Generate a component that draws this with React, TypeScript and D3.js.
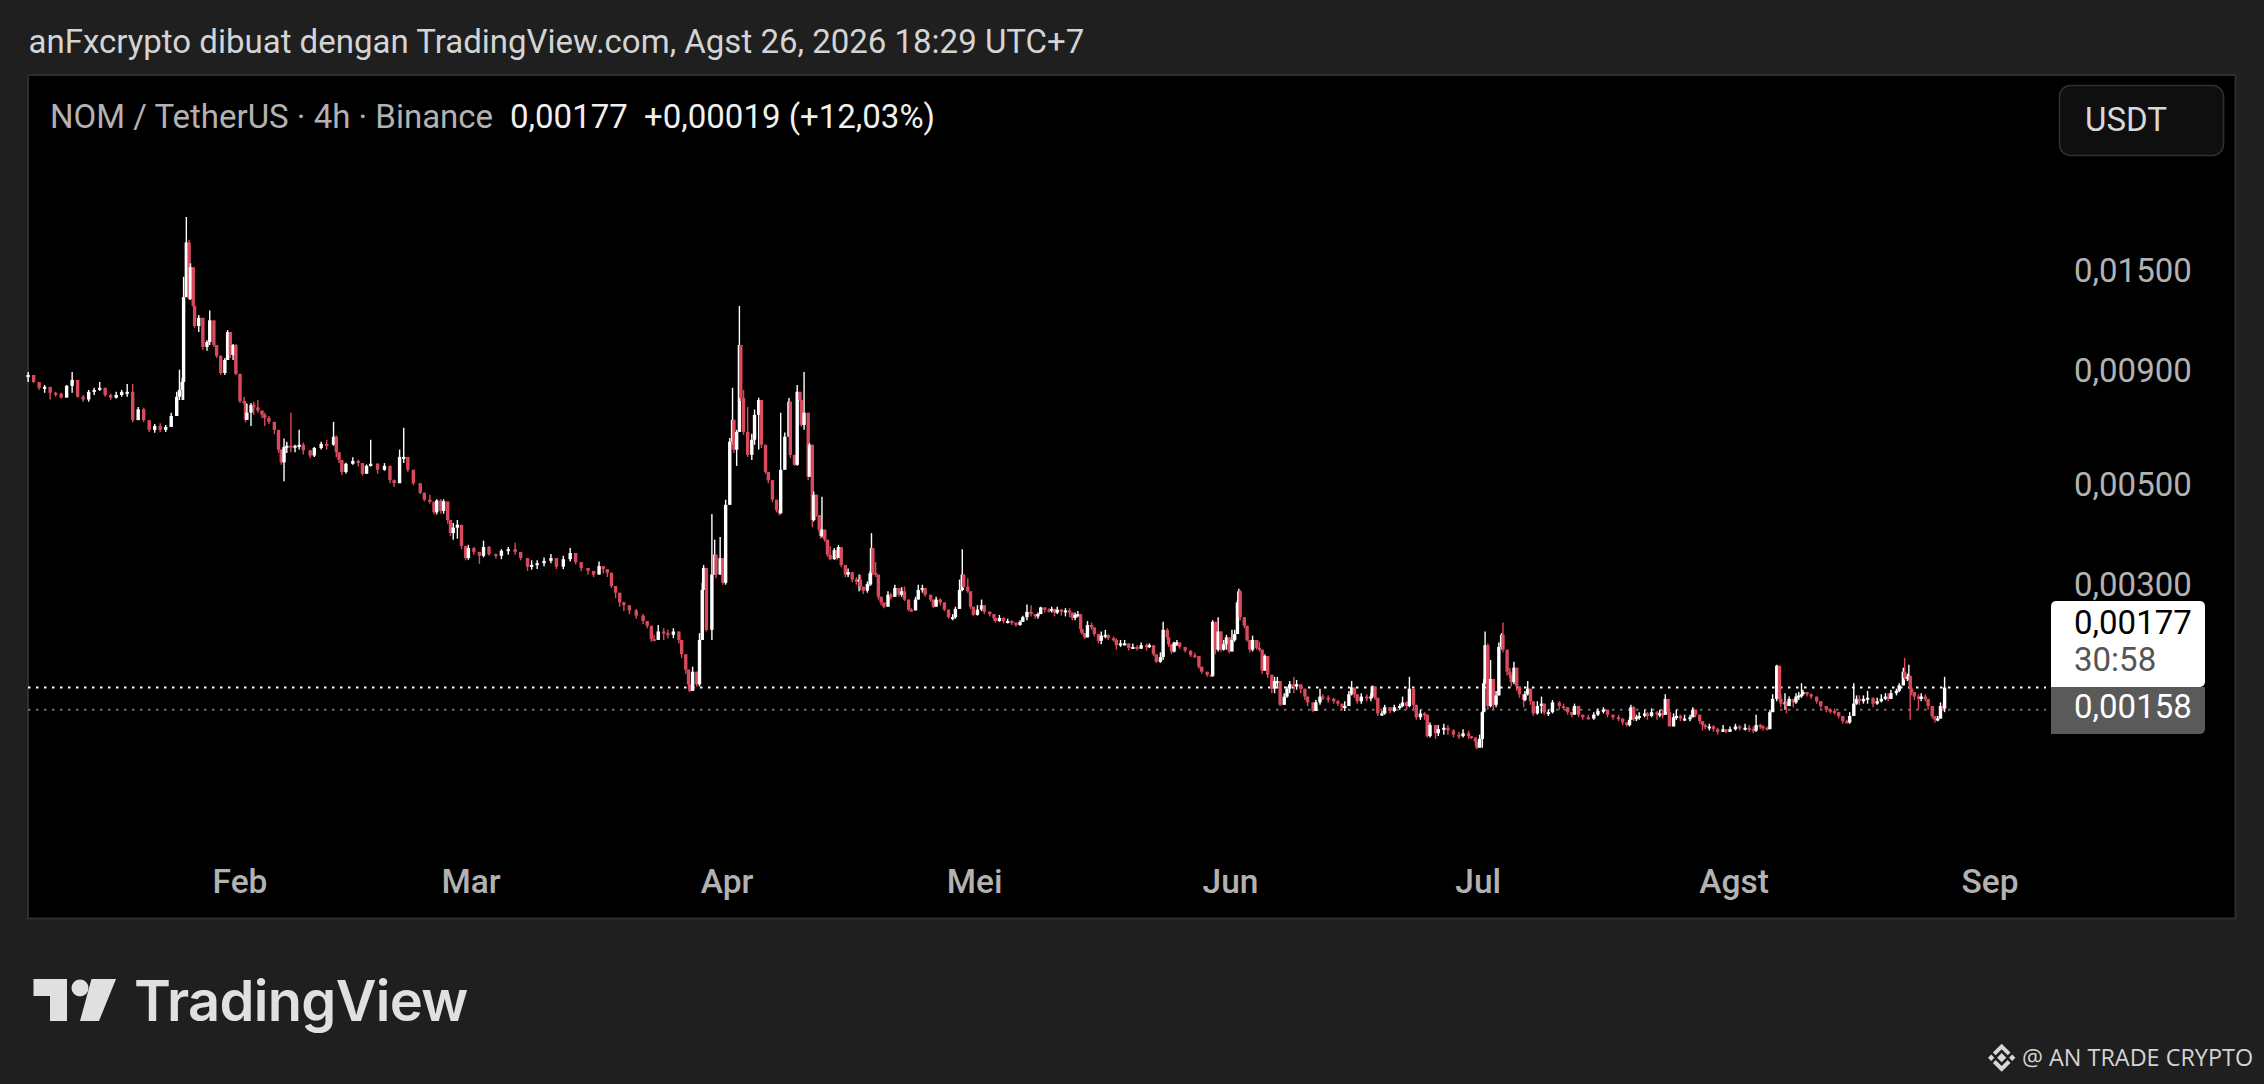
import React from "react";
import * as d3 from "d3";

// Every bar: [4h bar number, close, high, low], prices in 0.00001 USDT
type Bar = [number, number, number, number];

const firstOpen = 870;
const janBars: Bar[] = [
[0,880,893,849],[4,849,870,844],[8,824,849,815],[12,828,836,803],[16,803,815,776],[20,799,807,787],[24,783,803,780],[28,832,836,803],[32,858,893,803],[36,787,824,783],[40,776,794,767],[44,807,815,767],[48,815,824,794],[52,824,849,811],[56,794,824,787],[60,783,799,774],[64,794,807,780],[68,807,815,787],[72,807,840,787],[76,698,840,691],[80,738,747,725],[84,698,744,691],[88,664,691,657],[92,677,684,654],[96,664,687,657],[100,674,681,657],[104,713,725,687],[108,787,807,751],[110,815,904,774],[112,849,866,774],[113,1312,1456,774],[115,1737,1979,1312],[117,1300,1760,1293],[118,1530,1560,1293],[120,1255,1530,1245],[121,1131,1247,1120],[124,1180,1197,1097],[127,1016,1137,1000],[130,1042,1052,996],[132,1165,1225,1026],[135,1026,1080,1016],[137,970,1026,960],[140,889,975,880],[143,950,960,880],[145,1097,1108,950],[147,975,1097,960],[149,1026,1031,950],[151,885,1031,880],
];
const febBars: Bar[] = [
[154,770,885,762],[157,762,787,755],[158,699,770,690],[159,725,759,699],[162,755,762,677],[164,745,767,717],[167,733,774,725],[170,717,733,705],[172,706,725,677],[175,692,713,684],[179,664,681,650],[182,600,660,590],[184,562,600,555],[186,608,635,510],[188,612,625,590],[191,608,725,592],[194,612,615,592],[197,615,664,600],[200,598,622,585],[205,582,598,574],[208,605,608,578],[213,618,625,600],[217,615,631,600],[222,641,692,612],[224,592,645,577],[226,569,592,560],[228,535,569,527],[231,558,561,530],[236,566,577,555],[240,560,570,550],[243,530,560,525],[246,552,556,530],[249,558,631,550],[254,541,560,530],[259,552,560,538],[263,513,552,505],[266,505,515,495],[270,578,600,505],[273,578,671,560],[276,541,578,535],[280,505,541,500],[285,481,505,478],[288,464,481,460],[292,459,476,455],[295,435,459,430],[297,462,465,430],[300,438,465,432],[302,460,465,432],[305,418,455,410],[307,391,418,385],[309,402,412,378],[312,408,418,380],[315,366,408,360],[318,344,366,340],[320,362,368,341],
];
const marBars: Bar[] = [
[324,355,364,350],[328,348,355,334],[331,364,376,345],[335,351,366,348],[340,348,352,343],[344,357,360,342],[349,360,364,350],[354,355,372,350],[358,344,355,340],[363,329,344,322],[366,332,340,324],[370,335,340,325],[375,339,345,330],[380,344,351,335],[384,329,344,325],[389,342,348,325],[394,353,362,338],[398,337,353,333],[402,327,337,322],[407,322,327,316],[411,316,322,312],[415,330,338,316],[418,325,330,318],[421,319,325,312],[424,298,319,295],[427,288,298,280],[430,274,288,268],[433,270,275,262],[437,263,270,258],[442,256,265,252],[447,249,258,245],[450,243,249,240],[453,227,243,224],[455,226,232,225],[458,236,244,228],[462,234,240,226],[465,232,238,228],[469,236,240,228],[473,226,236,222],[475,210,226,206],[478,194,210,190],[480,180,194,176],[481,174,180,173],[483,192,197,178],[486,180,192,178],[488,226,234,178],[490,292,303,226],[491,327,332,292],[493,238,327,236],[497,316,431,226],[499,350,378,316],[500,316,350,310],[503,344,383,316],[505,303,344,300],[507,452,464,300],
];
const aprBars: Bar[] = [
[510,625,637,452],[512,699,824,615],[513,600,699,590],[515,657,664,552],[517,1026,1254,657],[518,782,1026,770],[520,657,815,647],[523,584,747,578],[526,631,651,569],[528,717,737,615],[531,774,783,600],[533,615,774,605],[536,535,615,530],[538,513,535,505],[541,464,513,458],[544,440,464,435],[546,433,440,428],[547,541,725,431],[550,641,655,541],[553,767,782,641],[554,584,767,575],[557,555,584,552],[559,807,836,552],[561,774,807,770],[562,681,774,675],[564,725,893,664],[567,522,725,513],[568,615,620,522],[570,418,615,403],[571,476,484,415],[573,429,476,425],[575,398,429,392],[576,385,398,380],[577,398,471,382],[579,378,398,374],[581,350,378,346],[583,342,366,340],[586,358,362,341],[588,344,358,340],[589,364,368,344],[591,332,364,328],[594,316,332,312],[596,320,326,312],[599,308,320,304],[602,306,312,300],[604,308,316,290],[605,297,316,292],[607,291,297,286],[610,301,305,288],[612,318,322,298],[613,362,391,300],[614,319,362,315],[616,316,337,312],[618,282,316,278],[620,274,282,270],[622,268,274,266],[625,285,290,268],[627,282,288,278],[630,295,300,282],[633,285,295,282],[635,290,296,282],[637,278,297,276],[640,264,278,262],[642,263,266,261],[645,278,282,263],[647,292,300,278],[650,295,300,288],[652,285,295,282],[656,278,285,275],[658,268,278,266],[660,278,282,268],[663,274,280,270],[666,264,274,262],[669,254,264,252],[672,254,258,250],[674,265,268,252],[677,292,308,265],[679,316,360,290],[680,297,316,295],[683,290,310,288],[685,268,290,265],
];
const meiBars: Bar[] = [
[687,257,268,256],[690,264,270,256],[693,270,278,262],[695,261,270,258],[699,258,262,255],[702,253,258,250],[703,249,253,247],[706,253,257,248],[709,249,254,246],[712,249,252,246],[715,247,250,244],[718,244,247,242],[721,248,250,243],[723,254,256,248],[726,261,271,250],[729,258,270,255],[732,255,258,252],[734,258,260,252],[736,267,268,258],[739,264,267,260],[742,263,266,260],[744,265,268,260],[746,260,265,255],[748,264,268,258],[751,261,265,256],[754,263,266,255],[757,260,266,254],[759,253,260,250],[761,257,260,250],[763,258,262,254],[765,239,258,236],[766,234,239,232],[768,229,234,227],[770,244,249,229],[773,241,247,238],[775,233,241,230],[778,225,233,222],[780,231,236,221],[783,232,238,228],[785,228,232,226],[789,226,230,224],[791,220,228,215],[794,222,226,218],[797,222,226,220],[800,217,222,214],[803,218,222,216],[806,216,220,214],[809,220,223,216],[813,218,222,214],[815,220,222,217],[818,210,220,208],[820,202,210,201],[823,207,212,201],[825,238,248,204],[828,229,240,226],[829,221,229,218],[831,213,221,210],[833,223,224,212],[835,223,226,219],[837,218,223,216],[841,214,218,212],[845,209,214,207],[848,208,212,206],[851,197,208,195],[853,192,197,190],[857,189,192,187],[860,188,190,187],[861,248,250,187],[863,215,248,210],[865,236,254,213],[867,215,236,213],[869,221,226,214],[871,229,232,215],
];
const junBars: Bar[] = [
[873,213,229,211],[875,226,238,213],[877,233,238,224],[879,274,277,233],[880,290,294,274],[881,254,292,250],[884,243,254,240],[886,226,243,224],[888,215,226,212],[890,226,231,213],[893,217,226,215],[895,215,224,213],[897,193,215,190],[899,208,210,193],[901,189,208,186],[904,176,189,172],[906,183,187,172],[908,183,187,178],[910,162,183,161],[913,169,172,162],[915,176,178,168],[917,180,183,172],[920,178,187,172],[922,180,184,175],[925,176,180,172],[928,169,176,166],[930,164,169,161],[934,157,164,156],[936,164,166,157],[939,169,176,162],[941,168,171,166],[945,167,170,164],[949,165,168,163],[952,163,166,161],[955,160,163,158],[957,161,165,157],[960,171,174,161],[962,177,183,170],[964,171,177,168],[966,165,171,163],[969,169,172,163],[973,168,171,165],[976,169,172,165],[977,178,179,168],[979,168,178,166],[981,155,168,153],[984,155,157,153],[986,160,162,154],[990,157,160,155],[993,160,162,156],[997,161,163,158],[999,164,169,160],[1002,161,165,158],[1004,176,187,160],[1007,162,176,158],[1009,152,162,150],[1012,155,158,150],[1015,154,156,150],[1017,138,154,137],[1019,146,148,137],[1023,140,146,136],[1025,143,146,138],[1029,144,147,139],[1032,142,146,139],[1036,139,143,137],[1040,138,141,136],[1043,140,143,137],[1047,138,142,136],[1049,137,138,136],[1052,134,137,132],
];
const julBars: Bar[] = [
[1053,130,134,129],[1055,136,139,130],[1057,156,157,130],[1058,181,185,156],[1059,220,236,180],[1061,161,222,158],[1063,185,204,160],[1065,162,185,158],[1067,170,174,160],[1069,218,223,170],[1071,232,234,215],[1072,215,247,212],[1075,192,215,188],[1077,189,196,186],[1078,182,189,178],[1080,196,202,180],[1082,178,196,174],[1084,171,178,168],[1087,166,171,160],[1088,171,174,165],[1090,176,183,170],[1092,165,176,162],[1094,155,165,153],[1097,161,165,154],[1100,163,169,155],[1102,156,163,154],[1105,156,158,153],[1108,164,166,155],[1113,161,165,158],[1116,160,163,158],[1119,156,160,154],[1122,154,156,152],[1124,161,163,154],[1127,154,161,152],[1130,152,154,150],[1134,151,154,150],[1138,154,156,150],[1141,157,159,153],[1145,158,160,155],[1148,154,158,152],[1152,152,154,150],[1156,151,154,149],[1159,148,151,146],[1162,146,148,145],[1164,150,152,145],[1165,160,162,150],[1167,151,161,149],[1169,152,154,149],[1171,153,156,150],[1175,155,158,152],[1177,153,156,150],[1180,156,159,152],[1184,154,157,150],[1186,155,158,152],[1188,154,158,151],[1190,167,171,154],[1192,156,167,154],[1193,145,156,145],[1196,152,155,145],[1198,153,158,150],[1201,151,154,149],[1204,151,154,149],[1208,152,154,149],[1210,158,160,152],[1212,154,158,152],[1215,149,154,147],[1217,146,149,142],[1219,145,147,143],[1222,145,147,142],[1225,143,146,141],[1228,141,144,139],[1232,143,146,141],[1234,141,143,140],[1237,143,145,141],
];
const agstBars: Bar[] = [
[1241,145,147,142],[1244,144,146,142],[1248,144,147,142],[1251,143,146,141],[1254,142,145,140],[1256,146,154,141],[1259,145,147,143],[1261,144,146,142],[1264,143,145,142],[1266,156,158,143],[1268,167,171,156],[1271,198,199,165],[1273,167,198,165],[1274,163,171,160],[1277,164,172,158],[1278,161,165,155],[1280,167,169,161],[1283,164,167,160],[1285,169,172,163],[1287,170,173,166],[1289,171,181,168],[1290,173,175,170],[1293,171,173,169],[1296,169,172,167],[1300,165,169,163],[1303,161,165,159],[1307,158,161,156],[1310,157,159,155],[1313,156,159,154],[1316,153,156,151],[1319,149,153,147],[1322,148,150,147],[1324,153,156,147],[1327,163,181,153],[1329,167,170,162],[1331,165,170,162],[1334,167,170,163],[1337,168,174,163],[1341,163,168,160],[1344,165,168,162],[1347,167,171,164],[1350,169,172,166],[1352,167,172,165],[1354,172,175,167],[1358,174,176,170],[1360,179,181,173],[1363,192,196,179],[1364,186,206,184],[1366,187,190,183],[1367,188,199,184],[1368,176,188,150],[1369,173,178,170],[1371,169,173,166],[1374,167,171,158],[1376,169,172,165],[1379,167,171,165],[1381,161,167,158],[1384,153,161,151],[1386,150,153,148],[1388,151,153,149],[1390,161,164,151],[1392,159,163,157],[1393,177,187,156],
];

const UNIT = 1e-5;
const barHours = 4;
const priceTicks = [0.015, 0.009, 0.005, 0.003];
const lastPrice = 0.00177;
const prevClose = 0.00158;
const monthLabels = ["Feb", "Mar", "Apr", "Mei", "Jun", "Jul", "Agst", "Sep"];
const monthNumbers = [1, 2, 3, 4, 5, 6, 7, 8];
const titleText = "anFxcrypto dibuat dengan TradingView.com, Agst 26, 2026 18:29 UTC+7";
const legendName = "NOM / TetherUS · 4h · Binance";
const legendPrice = "0,00177";
const legendChange = "+0,00019 (+12,03%)";

const W = 2264, H = 1084;
const BG = "#1f1f1f";
const FONT = "Roboto, sans-serif";
const GREY = "#b2b2b2";
const RED = "#d94a5c";
const FS = 33;

const firstBarTime = new Date(2026, 0, 6, 8).getTime();
const x = d3.scaleTime().domain([new Date(2026, 1, 1), new Date(2026, 8, 1)]).range([240, 1990]);
const y = d3.scaleLog().domain([0.015, prevClose]).range([271, 709.7]);
const fmt = (v: number) => d3.format(".5f")(v).replace(".", ",");

const allBars = [...janBars, ...febBars, ...marBars, ...aprBars, ...meiBars, ...junBars, ...julBars, ...agstBars];
const candles = allBars.map((b, i) => {
  const open = i === 0 ? firstOpen : allBars[i - 1][1];
  return {
    date: new Date(firstBarTime + b[0] * barHours * 3600e3),
    open: open * UNIT, close: b[1] * UNIT, high: b[2] * UNIT, low: b[3] * UNIT,
  };
});

export default function App() {
  return (
    <svg width={W} height={H} viewBox={`0 0 ${W} ${H}`} style={{ position: "absolute", left: 0, top: 0, display: "block" }}>
      <rect x={0} y={0} width={W} height={H} fill={BG} />
      <text x={28.5} y={53} fontFamily={FONT} fontSize={FS} fill="#d4d4d4">{titleText}</text>
      <rect x={28} y={75} width={2207.5} height={843.5} fill="#000" stroke="#2e2e2e" strokeWidth={2} />

      <text x={50} y={128} fontFamily={FONT} fontSize={FS} fill={GREY}>{legendName}</text>
      <text x={510} y={128} fontFamily={FONT} fontSize={FS} fill="#f0f0f0">{legendPrice}</text>
      <text x={644} y={128} fontFamily={FONT} fontSize={FS} fill="#f0f0f0">{legendChange}</text>

      <rect x={2059.5} y={85.5} width={164} height={70} rx={11} fill="#0f0f0f" stroke="#303030" strokeWidth={1.5} />
      <text x={2085} y={131} fontFamily={FONT} fontSize={FS} fill="#d8d8d8">USDT</text>

      {priceTicks.map((p) => (
        <text key={p} x={2074} y={(y(p) as number) + 11} fontFamily={FONT} fontSize={FS} fill={GREY}>{fmt(p)}</text>
      ))}

      <line x1={28} x2={2046} y1={y(lastPrice)} y2={y(lastPrice)} stroke="#fff" strokeWidth={2} strokeDasharray="2.5 5.5" />
      <line x1={28} x2={2046} y1={y(prevClose)} y2={y(prevClose)} stroke="#6e6e6e" strokeWidth={2} strokeDasharray="2.5 5.5" />

      <g>
        {candles.map((c, i) => {
          const cx = x(c.date);
          const up = c.close >= c.open;
          const col = up ? "#fff" : RED;
          const top = y(Math.max(c.open, c.close)) as number;
          const bot = y(Math.min(c.open, c.close)) as number;
          return (
            <g key={i}>
              <line x1={cx} x2={cx} y1={y(c.high)} y2={y(c.low)} stroke={col} strokeWidth={1.4} />
              <rect x={cx - 1.7} y={top} width={3.4} height={Math.max(2, bot - top)} fill={col} />
            </g>
          );
        })}
      </g>

      {monthLabels.map((m, i) => (
        <text key={m} x={x(new Date(2026, monthNumbers[i], 1))} y={893} textAnchor="middle" fontFamily={FONT} fontWeight={500} fontSize={33.5} fill={GREY}>{m}</text>
      ))}

      {/* price tags */}
      <path d="M2051 606a5 5 0 0 1 5-5h144a5 5 0 0 1 5 5v76a5 5 0 0 1-5 5h-149z" fill="#fff" />
      <path d="M2051 687h154v42a5 5 0 0 1-5 5h-149z" fill="#5a5a5a" />
      <text x={2074} y={634} fontFamily={FONT} fontSize={FS} fill="#000">{fmt(lastPrice)}</text>
      <text x={2074} y={671} fontFamily={FONT} fontSize={FS} fill="#555">30:58</text>
      <text x={2074} y={718} fontFamily={FONT} fontSize={FS} fill="#fff">{fmt(prevClose)}</text>

      {/* TradingView mark */}
      <g fill="#e0e0e0">
        <path d="M33.5 979H67V1021H50V996H33.5z" />
        <circle cx={80} cy={988} r={8.5} />
        <path d="M91.5 979H116L99 1021H80z" />
        <text x={134} y={1021} fontFamily="Inter, sans-serif" fontWeight={600} fontSize={56} letterSpacing={-0.7}>TradingView</text>
      </g>

      {/* watermark */}
      <g fill="#d8d8d8" transform="translate(2001.7 1057.7)">
        <path d="M0-4.6 4.6 0 0 4.6-4.6 0z" />
        <path d="M-10.5-3.2-7.3 0-10.5 3.2-13.7 0z" />
        <path d="M10.5-3.2 13.7 0 10.5 3.2 7.3 0z" />
        <path d="M0-14 8.8-5.2 6-2.4 0-8.4-6-2.4-8.8-5.2z" />
        <path d="M0 14 8.8 5.2 6 2.4 0 8.4-6 2.4-8.8 5.2z" />
      </g>
      <text x={2022} y={1066} fontFamily="'Open Sans', sans-serif" fontSize={23.4} fill="#d4d4d4">@ AN TRADE CRYPTO</text>
    </svg>
  );
}
